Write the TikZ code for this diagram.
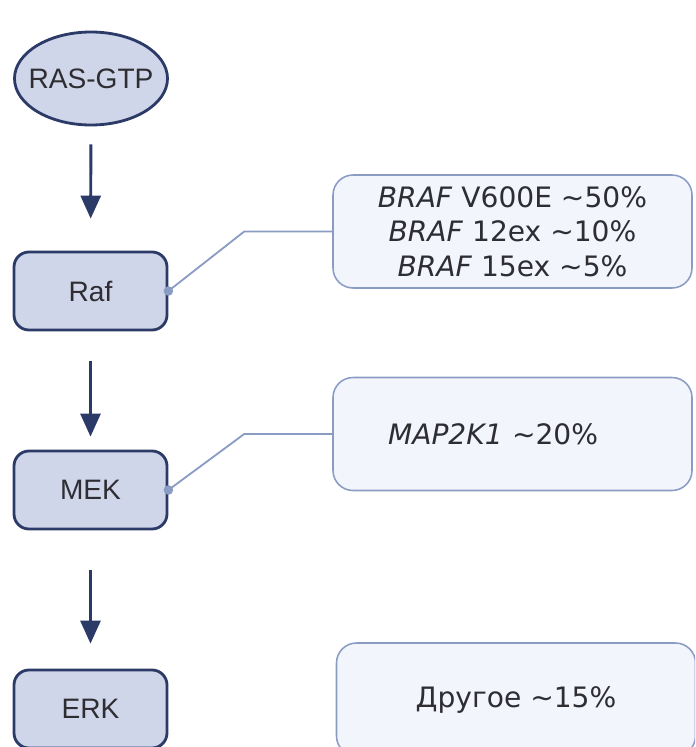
\documentclass[tikz,border=0pt]{standalone}
\usepackage{fontspec}
\setmainfont{Liberation Sans}
\newfontfamily\notefont{DejaVu Sans}
\usepackage{tikz}
\usetikzlibrary{arrows.meta,positioning,calc,shapes.geometric}
\usepackage{xcolor}
\definecolor{navy}{RGB}{43,58,103}
\definecolor{nodefill}{RGB}{208,214,234}
\definecolor{noteedge}{RGB}{138,156,196}
\definecolor{notefill}{RGB}{242,245,251}
\definecolor{inkgray}{RGB}{45,45,50}

\begin{document}
\begin{tikzpicture}[
    pill/.style={ellipse,draw=navy,line width=2pt,fill=nodefill,inner sep=0pt,minimum width=3.825cm,minimum height=2.325cm,font=\fontsize{20}{24}\selectfont,text=inkgray},
    kinase/.style={draw=navy,line width=2pt,fill=nodefill,rounded corners=0.375cm,minimum width=3.825cm,minimum height=1.95cm,font=\fontsize{20}{24}\selectfont,text=inkgray},
    note/.style={draw=noteedge,line width=1.1pt,fill=notefill,rounded corners=0.5cm,minimum width=8.975cm,minimum height=2.825cm,align=center,font=\notefont\fontsize{20}{24.5}\selectfont,text=inkgray},
    flow/.style={-{Triangle[length=0.575cm,width=0.5cm]},line width=2.1pt,navy},
    link/.style={noteedge,line width=1.3pt},
    >=Stealth
]
\clip (0,0) rectangle (17.375,-18.675);
% signalling cascade
\node[pill] (ras) at (2.275,-1.9625) {\makebox[0pt]{RAS-GTP}};
\node[kinase] (raf) at (2.2625,-7.275) {Raf};
\node[kinase] (mek) at (2.2625,-12.25) {MEK};
\node[kinase] (erk) at (2.2625,-17.725) {ERK};
\draw[flow,shorten <=0.45cm,shorten >=0.8cm] (ras) -- (raf);
\draw[flow,shorten <=0.75cm,shorten >=0.325cm] (raf) -- (mek);
\draw[flow,shorten <=1.0cm,shorten >=0.625cm] (mek) -- (erk);
% mutation frequencies
\node[note] (braf) at (12.8125,-5.7875) {\textit{BRAF} V600E \textasciitilde 50\%\\\textit{BRAF} 12ex \textasciitilde 10\%\\\textit{BRAF} 15ex \textasciitilde 5\%};
\node[note,align=left,inner xsep=1.375cm,text width=6.225cm] (map) at (12.8125,-10.85) {\textit{MAP2K1} \textasciitilde 20\%};
\node[note] (other) at (12.9,-17.4875) {Другое \textasciitilde 15\%};
\draw[link] (raf.east) -- ($(braf.west)+(-2.2,0)$) -- (braf.west);
\draw[link] (mek.east) -- ($(map.west)+(-2.2,0)$) -- (map.west);
\fill[noteedge] (raf.east) circle (0.12);
\fill[noteedge] (mek.east) circle (0.12);
\end{tikzpicture}
\end{document}
